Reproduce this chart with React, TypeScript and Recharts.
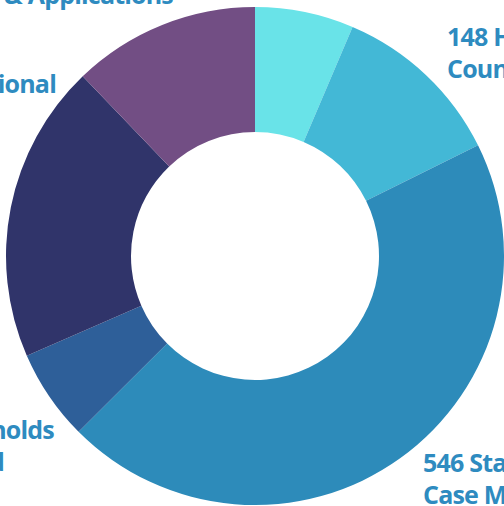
import { PieChart, Pie, Cell } from "recharts";

// slices clockwise from 12 o'clock
const names = ["Outreach", "Housing Counseling", "Standard Case Management", "Households Served", "Educational", "Tools & Applications"];
const values = [78, 137, 546, 72, 236, 148];
const colors = ["#69e3e8", "#43b8d6", "#2d8bba", "#2e5f99", "#30346a", "#724e84"];

// label lines as they appear (partly cut off by the frame)
const labelLines = [
  { text: "148 Tools & Applications", x: 173, y: 4, anchor: "end" },
  { text: "236 Educational", x: 56, y: 93, anchor: "end" },
  { text: "148 Housing", x: 447, y: 46, anchor: "start" },
  { text: "Counseling", x: 447, y: 78, anchor: "start" },
  { text: "72 Households", x: 54, y: 439, anchor: "end" },
  { text: "Served", x: 4, y: 471, anchor: "end" },
  { text: "546 Standard", x: 423, y: 472, anchor: "start" },
  { text: "Case Management", x: 423, y: 504, anchor: "start" },
];

const data = names.map((name, i) => ({ name, value: values[i] }));

export default function App() {
  return (
    <div style={{ position: "absolute", left: 0, top: 0, width: 504, height: 506, overflow: "hidden", background: "#fff" }}>
      <PieChart width={504} height={506} margin={{ top: 0, right: 0, bottom: 0, left: 0 }}>
        <Pie
          data={data}
          dataKey="value"
          cx={255}
          cy={256}
          innerRadius={124}
          outerRadius={249}
          startAngle={90}
          endAngle={-270}
          stroke="none"
          isAnimationActive={false}
        >
          {data.map((d, i) => (
            <Cell key={d.name} fill={colors[i]} />
          ))}
        </Pie>
      </PieChart>
      <svg width={504} height={506} style={{ position: "absolute", left: 0, top: 0 }}>
        {labelLines.map((l) => (
          <text
            key={l.text}
            x={l.x}
            y={l.y}
            textAnchor={l.anchor as "start" | "end"}
            fill="#2e8bc0"
            fontFamily="'Open Sans', Lato, sans-serif"
            fontWeight={700}
            fontSize={25}
            letterSpacing={-0.8}
          >
            {l.text}
          </text>
        ))}
      </svg>
    </div>
  );
}
